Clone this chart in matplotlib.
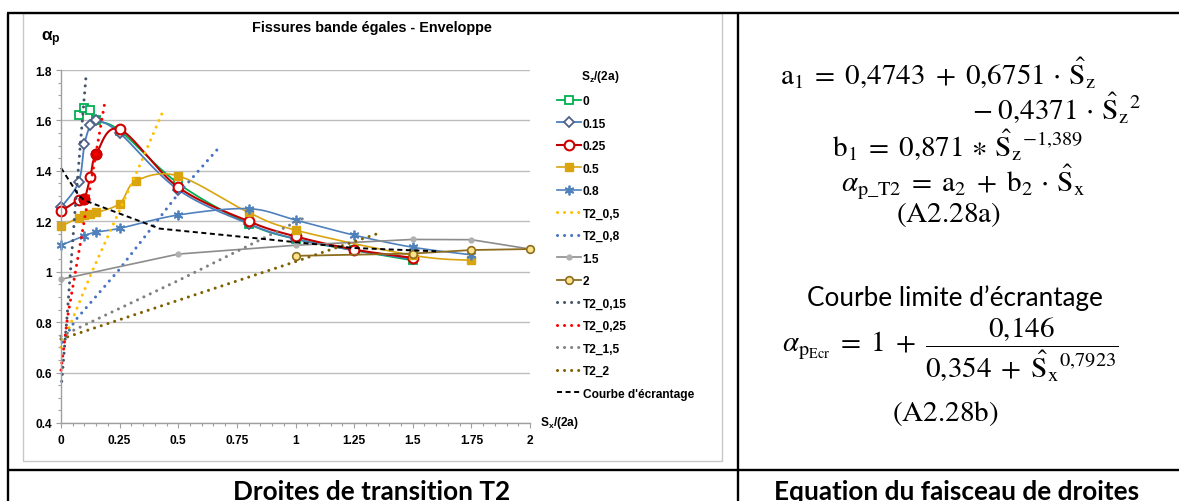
import numpy as np
import matplotlib
matplotlib.use("Agg")
import matplotlib.pyplot as plt
from matplotlib.lines import Line2D
from matplotlib.patches import Rectangle

# ---------------- data ----------------
sz0_x = [0.075, 0.1, 0.125, 0.15, 0.25, 0.5, 0.8, 1.0, 1.25, 1.5]
sz0_y = [1.62, 1.65, 1.64, 1.60, 1.56, 1.35, 1.19, 1.13, 1.085, 1.045]
sz015_x = [0, 0.075, 0.1, 0.125, 0.15, 0.25, 0.5, 0.8, 1.0, 1.25, 1.5]
sz015_y = [1.255, 1.355, 1.505, 1.58, 1.60, 1.55, 1.325, 1.19, 1.13, 1.085, 1.05]
sz025_x = [0, 0.075, 0.1, 0.125, 0.15, 0.25, 0.5, 0.8, 1.0, 1.25, 1.5]
sz025_y = [1.24, 1.285, 1.29, 1.375, 1.465, 1.565, 1.335, 1.20, 1.14, 1.088, 1.055]
sz025_filled = [2, 4]
sz05_x = [0, 0.075, 0.1, 0.125, 0.15, 0.25, 0.32, 0.5, 0.8, 1.0, 1.5, 1.75]
sz05_y = [1.18, 1.215, 1.223, 1.23, 1.235, 1.27, 1.36, 1.38, 1.235, 1.165, 1.065, 1.045]
sz08_x = [0, 0.1, 0.15, 0.25, 0.5, 0.8, 1.0, 1.25, 1.5, 1.75]
sz08_y = [1.105, 1.143, 1.157, 1.172, 1.225, 1.25, 1.205, 1.145, 1.097, 1.067]
sz15_x = [0, 0.5, 1.0, 1.5, 1.75, 2.0]
sz15_y = [0.97, 1.07, 1.105, 1.128, 1.127, 1.09]
sz2_x = [1.0, 1.5, 1.75, 2.0]
sz2_y = [1.063, 1.072, 1.086, 1.09]

t2_05_x = [0.0, 0.131, 0.323, 0.436]
t2_05_y = [0.70, 0.998, 1.395, 1.639]
t2_08_x = [0.005, 0.06, 0.245, 0.5, 0.681]
t2_08_y = [0.72, 0.806, 1.005, 1.309, 1.50]
t2_015_x = [0.003, 0.024, 0.067, 0.108]
t2_015_y = [0.565, 0.80, 1.33, 1.79]
t2_025_x = [0.0, 0.028, 0.138, 0.189]
t2_025_y = [0.61, 0.82, 1.41, 1.683]
t2_15_x = [0.0, 0.5, 1.03]
t2_15_y = [0.744, 0.965, 1.21]
t2_2_x = [0.0, 1.0, 1.356]
t2_2_y = [0.733, 1.04, 1.153]

ecr_x = [0, 0.075, 0.1, 0.42, 1.25, 1.6]
ecr_y = [1.412, 1.303, 1.283, 1.171, 1.094, 1.081]

xticks = [0, 0.25, 0.5, 0.75, 1, 1.25, 1.5, 1.75, 2]
xticklabels = ["0", "0.25", "0.5", "0.75", "1", "1.25", "1.5", "1.75", "2"]
yticks = [0.4, 0.6, 0.8, 1.0, 1.2, 1.4, 1.6, 1.8]
yticklabels = ["0.4", "0.6", "0.8", "1", "1.2", "1.4", "1.6", "1.8"]

# ---------------- helpers ----------------
W, H = 1179, 502
def fx(px):
    return px / W
def fy(py):
    return 1 - py / H

def smooth(x, y, n=24):
    pts = np.column_stack([x, y]).astype(float)
    P = np.vstack([pts[0], pts, pts[-1]])
    out = []
    t = np.linspace(0, 1, n)[:, None]
    for i in range(1, len(P) - 2):
        p0, p1, p2, p3 = P[i - 1], P[i], P[i + 1], P[i + 2]
        c1 = p1 + (p2 - p0) / 6
        c2 = p2 - (p3 - p1) / 6
        seg = (1 - t) ** 3 * p1 + 3 * (1 - t) ** 2 * t * c1 + 3 * (1 - t) * t ** 2 * c2 + t ** 3 * p2
        out.append(seg if i == 1 else seg[1:])
    s = np.vstack(out)
    return s[:, 0], s[:, 1]

plt.rcParams["font.family"] = ["Liberation Sans", "DejaVu Sans"]
plt.rcParams["mathtext.fontset"] = "custom"
plt.rcParams["mathtext.rm"] = "Liberation Sans"
plt.rcParams["mathtext.bf"] = "Liberation Sans:bold"
plt.rcParams["mathtext.it"] = "Liberation Sans:italic"

fig = plt.figure(figsize=(W / 100, H / 100), dpi=100)
fig.patch.set_facecolor("white")

# chart frame (gray)
fig.add_artist(Rectangle((fx(23), fy(462)), fx(722) - fx(23), fy(14) - fy(462),
                         transform=fig.transFigure, fill=False, ec="#C8C8C8", lw=1.0))

ax = fig.add_axes([fx(61), fy(424), fx(530) - fx(61), fy(71) - fy(424)])
ax.set_xlim(0, 2)
ax.set_ylim(0.4, 1.8)
for s in ["top", "right"]:
    ax.spines[s].set_visible(False)
for s in ["left", "bottom"]:
    ax.spines[s].set_color("#A0A0A0")
    ax.spines[s].set_linewidth(1.0)
ax.set_xticks(xticks)
ax.set_xticklabels(xticklabels)
ax.set_yticks(yticks)
ax.set_yticklabels(yticklabels)
ax.set_xticks(np.arange(0, 2.0001, 0.05), minor=True)
ax.set_yticks(np.arange(0.4, 1.8001, 0.05), minor=True)
ax.tick_params(which="major", length=3.5, width=0.8, color="#A0A0A0", labelsize=8.6)
ax.tick_params(which="minor", length=2, width=0.8, color="#A0A0A0")
ax.tick_params(axis="y", which="major", pad=3)
ax.tick_params(axis="x", which="major", pad=4.5)
for lab in ax.get_xticklabels() + ax.get_yticklabels():
    lab.set_fontweight("bold")
ax.yaxis.grid(True, which="major", color="#BDBDBD", lw=1.0)
ax.set_axisbelow(True)

dot = (0, (0.01, 2.3))
dot_kw = dict(lw=2.2, dash_capstyle="round", clip_on=False)

def smooth_series(x, y, color, lw, mk):
    sx, sy = smooth(x, y)
    ax.plot(sx, sy, color=color, lw=lw, clip_on=False)
    ax.plot(x, y, ls="none", clip_on=False, **mk)
    return Line2D([], [], color=color, lw=lw, **mk)

h0 = smooth_series(sz0_x, sz0_y, "#00B050", 1.3,
                   dict(marker="s", ms=6, mfc="white", mec="#00B050", mew=1.3))
h015 = smooth_series(sz015_x, sz015_y, "#4A7EBB", 1.3,
                     dict(marker="D", ms=5, mfc="white", mec="#4F6289", mew=1.3))
h025 = smooth_series(sz025_x, sz025_y, "#C00000", 1.5,
                     dict(marker="o", ms=7, mfc="white", mec="#D00000", mew=1.5))
ax.plot([sz025_x[i] for i in sz025_filled], [sz025_y[i] for i in sz025_filled],
        ls="none", marker="o", ms=7, mfc="#E00000", mec="#D00000", mew=1.5)
h05 = smooth_series(sz05_x, sz05_y, "#D9A40E", 1.2,
                    dict(marker="s", ms=6, mfc="#D9A40E", mec="#D9A40E", mew=1.0))
h08 = smooth_series(sz08_x, sz08_y, "#4F81BD", 1.2,
                    dict(marker=(6, 2, 0), ms=7, mfc="#4F81BD", mec="#4F81BD", mew=1.3))
ht05, = ax.plot(t2_05_x, t2_05_y, color="#FFC000", ls=dot, **dot_kw)
ht08, = ax.plot(t2_08_x, t2_08_y, color="#4472C4", ls=dot, **dot_kw)
h15, = ax.plot(sz15_x, sz15_y, color="#8C8C8C", lw=1.2, marker="o", ms=3.5,
               mfc="#B0B0B0", mec="#B0B0B0", clip_on=False)
h2, = ax.plot(sz2_x, sz2_y, color="#8C6D1F", lw=1.3, marker="o", ms=5.5,
              mfc="#FFE38A", mec="#8C6D1F", mew=1.2, clip_on=False)
ht015, = ax.plot(t2_015_x, t2_015_y, color="#44546A", ls=dot, **dot_kw)
ht025, = ax.plot(t2_025_x, t2_025_y, color="#FF0000", ls=dot, **dot_kw)
ht15, = ax.plot(t2_15_x, t2_15_y, color="#7F7F7F", ls=dot, **dot_kw)
ht2, = ax.plot(t2_2_x, t2_2_y, color="#7F6000", ls=dot, **dot_kw)
hecr, = ax.plot(ecr_x, ecr_y, color="black", lw=1.4, ls=(0, (2.6, 1.8)), clip_on=False)

leg_handles = [h0, h015, h025, h05, h08, ht05, ht08, h15, h2, ht015, ht025, ht15, ht2, hecr]
leg_labels = ["0", "0.15", "0.25", "0.5", "0.8", "T2_0,5", "T2_0,8", "1.5", "2",
              "T2_0,15", "T2_0,25", "T2_1,5", "T2_2", "Courbe d'écrantage"]
leg = fig.legend(leg_handles, leg_labels, loc="upper left",
                 bbox_to_anchor=(fx(557), fy(96)), frameon=False,
                 prop=dict(size=8.6, weight="bold"), handlelength=2.0,
                 handletextpad=0.15, labelspacing=0.88, borderpad=0, borderaxespad=0)

fig.text(fx(581), fy(77), r"S$_{\mathbf{z}}$/(2a)", fontsize=8.6, fontweight="bold",
         ha="left", va="center")
fig.text(fx(540), fy(423), r"S$_{\mathbf{x}}$/(2a)", fontsize=8.6, fontweight="bold",
         ha="left", va="center")
fig.text(fx(372), fy(28), "Fissures bande égales - Enveloppe", fontsize=10.4,
         fontweight="bold", ha="center", va="center")
fig.text(fx(41), fy(39), r"α$_{\mathbf{p}}$", fontsize=12.5, fontweight="bold",
         ha="left", va="center")

# ---------------- table lines ----------------
tl = dict(color="black", lw=1.7, transform=fig.transFigure, solid_capstyle="butt")
fig.add_artist(Line2D([fx(7), 1], [fy(13.5), fy(13.5)], **tl))
fig.add_artist(Line2D([fx(8.3), fx(8.3)], [fy(13.5), 0], **tl))
fig.add_artist(Line2D([fx(737.5), fx(737.5)], [fy(13.5), 0], **tl))
fig.add_artist(Line2D([fx(7), 1], [fy(471), fy(471)], **tl))

# ---------------- equations ----------------
eq = dict(fontsize=21, math_fontfamily="stix", color="black")
S = r"\hat{\mathrm{S}}"
fig.text(fx(780), fy(84),
         r"$\mathrm{a}_1\;=\;0{,}4743\;+\;0{,}6751\,\cdot\," + S + r"_{\mathrm{z}}$",
         ha="left", va="baseline", **eq)
fig.text(fx(1141), fy(119),
         r"$-\;0{,}4371\,\cdot\,{" + S + r"_{\mathrm{z}}}^{2}$",
         ha="right", va="baseline", **eq)
fig.text(fx(958), fy(156),
         r"$\mathrm{b}_1\;=\;0{,}871\,\ast\,{" + S + r"_{\mathrm{z}}}^{-1{,}389}$",
         ha="center", va="baseline", **eq)
fig.text(fx(963), fy(191),
         r"$\alpha_{\mathrm{p\_T2}}\;=\;\mathrm{a}_2\;+\;\mathrm{b}_2\,\cdot\," + S + r"_{\mathrm{x}}$",
         ha="center", va="baseline", **eq)
fig.text(fx(948), fy(222), r"$\mathrm{(A2.28a)}$", ha="center", va="baseline", **eq)

fig.text(fx(955), fy(298), "Courbe limite d\u2019écrantage", fontsize=18.8,
         family=["Lato", "DejaVu Sans"], ha="center", va="center")
fig.text(fx(950), fy(350),
         r"$\alpha_{\mathrm{p}_{\mathrm{Ecr}}}\;=\;1\;+\;\dfrac{0{,}146}{0{,}354\;+\;{" + S
         + r"_{\mathrm{x}}}^{0{,}7923}}$",
         ha="center", va="center", **eq)
fig.text(fx(945), fy(421), r"$\mathrm{(A2.28b)}$", ha="center", va="baseline", **eq)

cap = dict(fontsize=18.8, fontweight="bold", family=["Lato", "DejaVu Sans"],
           ha="center", va="baseline")
fig.text(fx(372), fy(500), "Droites de transition T2", **cap)
fig.text(fx(957), fy(500), "Equation du faisceau de droites", **cap)

fig.savefig("out.png", dpi=100, facecolor="white")
